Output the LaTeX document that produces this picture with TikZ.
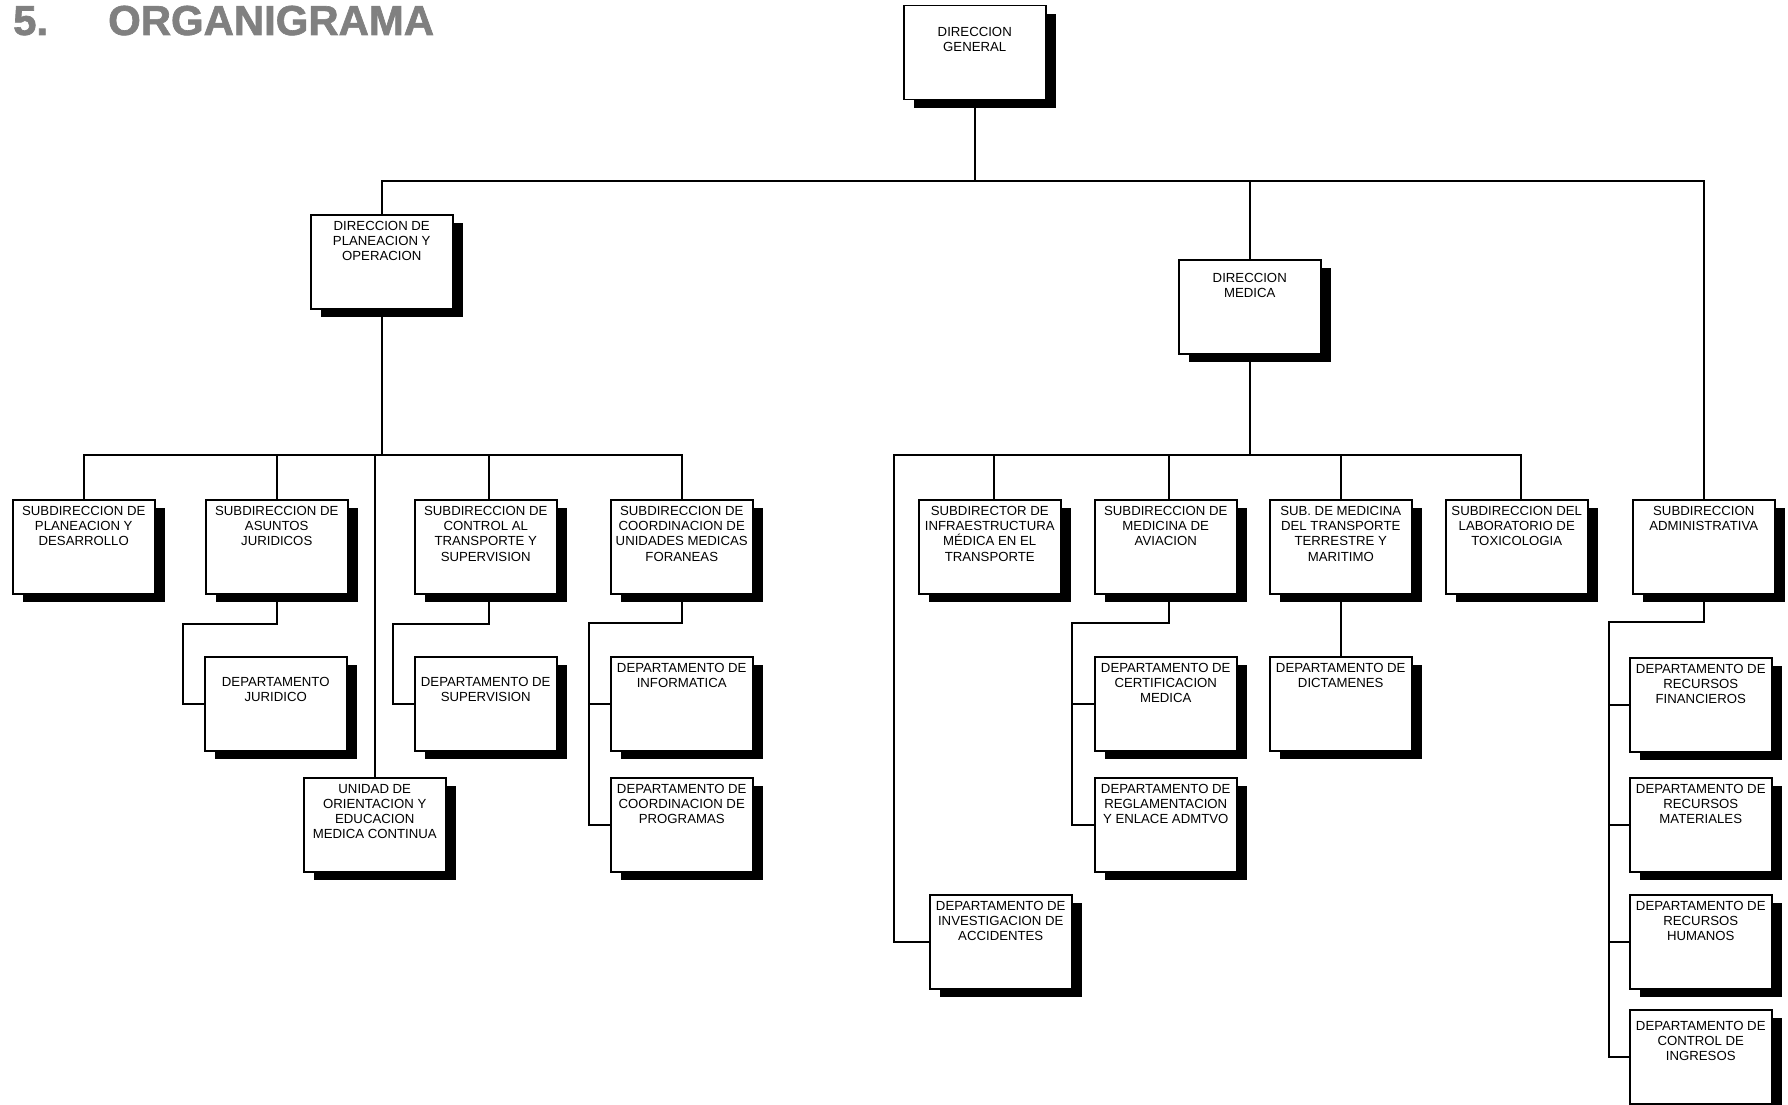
\documentclass[tikz,border=0pt]{standalone}
\usepackage{fontspec}
\usetikzlibrary{shadows}
\newfontfamily\boxfont{Liberation Sans}
\newfontfamily\titlefont{Liberation Sans}[BoldFeatures={FakeBold=1.6}]
\definecolor{titlegray}{RGB}{128,128,128}

\tikzset{
  orgbox/.style={draw, line width=1.5pt, fill=white, anchor=north west,
    minimum width=142pt, minimum height=94pt, inner sep=0pt,
    drop shadow={shadow xshift=10pt, shadow yshift=-8pt, opacity=1, fill=black}},
  boxtext/.style={anchor=north, inner sep=0pt, align=center,
    font=\boxfont\fontsize{13.2}{15.2}\selectfont},
  link/.style={line width=1.8pt, line join=miter},
  titletext/.style={anchor=base west, inner sep=0pt, text=titlegray,
    font=\titlefont\bfseries\fontsize{41.9}{48}\selectfont}
}

% one unit of the chart: name, left, top, gap above the text, text
\newcommand\orgunit[5]{%
  \node[orgbox] (#1) at (#2,#3) {};
  \node[boxtext] (#1-t) at ([yshift=-#4pt]#1.north) {#5};
}

\begin{document}
\begin{tikzpicture}[x=1pt, y=-1pt]
\useasboundingbox (0,0) rectangle (1788,1105);
\fill[white] (0,0) rectangle (1788,1105);

% heading
\node[titletext] (title-num) at (13,35) {5.};
\node[titletext] (title-text) at (108,35) {ORGANIGRAMA};

% top levels
\orgunit{dg}{903}{5}{22}{DIRECCION\\GENERAL}
\orgunit{dpo}{310}{214}{7}{DIRECCION DE\\PLANEACION Y\\OPERACION}
\orgunit{dm}{1178}{259}{14}{DIRECCION\\MEDICA}

% planeacion y operacion
\orgunit{spd}{12}{499}{7}{SUBDIRECCION DE\\PLANEACION Y\\DESARROLLO}
\orgunit{saj}{205}{499}{7}{SUBDIRECCION DE\\ASUNTOS\\JURIDICOS}
\orgunit{scts}{414}{499}{7}{SUBDIRECCION DE\\CONTROL AL\\TRANSPORTE Y\\SUPERVISION}
\orgunit{scumf}{610}{499}{7}{SUBDIRECCION DE\\COORDINACION DE\\UNIDADES MEDICAS\\FORANEAS}
\orgunit{dj}{204}{656}{21}{DEPARTAMENTO\\JURIDICO}
\orgunit{ds}{414}{656}{21}{DEPARTAMENTO DE\\SUPERVISION}
\orgunit{di}{610}{656}{7}{DEPARTAMENTO DE\\INFORMATICA}
\orgunit{dcp}{610}{777}{7}{DEPARTAMENTO DE\\COORDINACION DE\\PROGRAMAS}
\orgunit{uoemc}{303}{777}{7}{UNIDAD DE\\ORIENTACION Y\\EDUCACION\\MEDICA CONTINUA}

% medica
\orgunit{simt}{918}{499}{7}{SUBDIRECTOR DE\\INFRAESTRUCTURA\\MÉDICA EN EL\\TRANSPORTE}
\orgunit{sma}{1094}{499}{7}{SUBDIRECCION DE\\MEDICINA DE\\AVIACION}
\orgunit{smttm}{1269}{499}{7}{SUB. DE MEDICINA\\DEL TRANSPORTE\\TERRESTRE Y\\MARITIMO}
\orgunit{slt}{1445}{499}{7}{SUBDIRECCION DEL\\LABORATORIO DE\\TOXICOLOGIA}
\orgunit{dcm}{1094}{656}{7}{DEPARTAMENTO DE\\CERTIFICACION\\MEDICA}
\orgunit{dra}{1094}{777}{7}{DEPARTAMENTO DE\\REGLAMENTACION\\Y ENLACE ADMTVO}
\orgunit{dd}{1269}{656}{7}{DEPARTAMENTO DE\\DICTAMENES}
\orgunit{dia}{929}{894}{7}{DEPARTAMENTO DE\\INVESTIGACION DE\\ACCIDENTES}

% administrativa
\orgunit{sa}{1632}{499}{7}{SUBDIRECCION\\ADMINISTRATIVA}
\orgunit{drf}{1629}{657}{7}{DEPARTAMENTO DE\\RECURSOS\\FINANCIEROS}
\orgunit{drm}{1629}{777}{7}{DEPARTAMENTO DE\\RECURSOS\\MATERIALES}
\orgunit{drh}{1629}{894}{7}{DEPARTAMENTO DE\\RECURSOS\\HUMANOS}
\orgunit{dci}{1629}{1009}{12}{DEPARTAMENTO DE\\CONTROL DE\\INGRESOS}

% bus heights and elbows
\coordinate (bus1) at (0,181);
\coordinate (bus2) at (0,455);
\coordinate (e1) at (183,624);
\coordinate (e2) at (393,624);
\coordinate (e3) at (589,623);
\coordinate (e4) at (894,455);
\coordinate (e5) at (1072,623);
\coordinate (e6) at (1609,622);

% connectors
\draw[link] (dg.south) -- (dg.south |- bus1);
\draw[link] (dpo.north) -- (dpo.north |- bus1) -- (sa.north |- bus1) -- (sa.north);
\draw[link] (dm.north) -- (dm.north |- bus1);

\draw[link] (dpo.south) -- (dpo.south |- bus2);
\draw[link] (spd.north) -- (spd.north |- bus2) -- (scumf.north |- bus2) -- (scumf.north);
\draw[link] (saj.north) -- (saj.north |- bus2);
\draw[link] ([xshift=3pt]scts.north) -- ([xshift=3pt]scts.north |- bus2);
\draw[link] (uoemc.north) -- (uoemc.north |- bus2);

\draw[link] (saj.south) |- (e1) |- (dj.west);
\draw[link] ([xshift=3pt]scts.south) |- (e2) |- (ds.west);
\draw[link] (scumf.south) |- (e3) |- (dcp.west);
\draw[link] (e3 |- di.west) -- (di.west);

\draw[link] (dm.south) -- (dm.south |- bus2);
\draw[link] (dia.west) -| (e4) -- ([xshift=4pt]slt.north |- e4) -- ([xshift=4pt]slt.north);
\draw[link] ([xshift=4pt]simt.north) -- ([xshift=4pt]simt.north |- e4);
\draw[link] ([xshift=3pt]sma.north) -- ([xshift=3pt]sma.north |- e4);
\draw[link] (smttm.north) -- (smttm.north |- e4);

\draw[link] ([xshift=3pt]sma.south) |- (e5) |- (dra.west);
\draw[link] (e5 |- dcm.west) -- (dcm.west);
\draw[link] (smttm.south) -- (dd.north);

\draw[link] (sa.south) |- (e6) |- (dci.west);
\draw[link] (e6 |- drf.west) -- (drf.west);
\draw[link] (e6 |- drm.west) -- (drm.west);
\draw[link] (e6 |- drh.west) -- (drh.west);
\end{tikzpicture}
\end{document}
